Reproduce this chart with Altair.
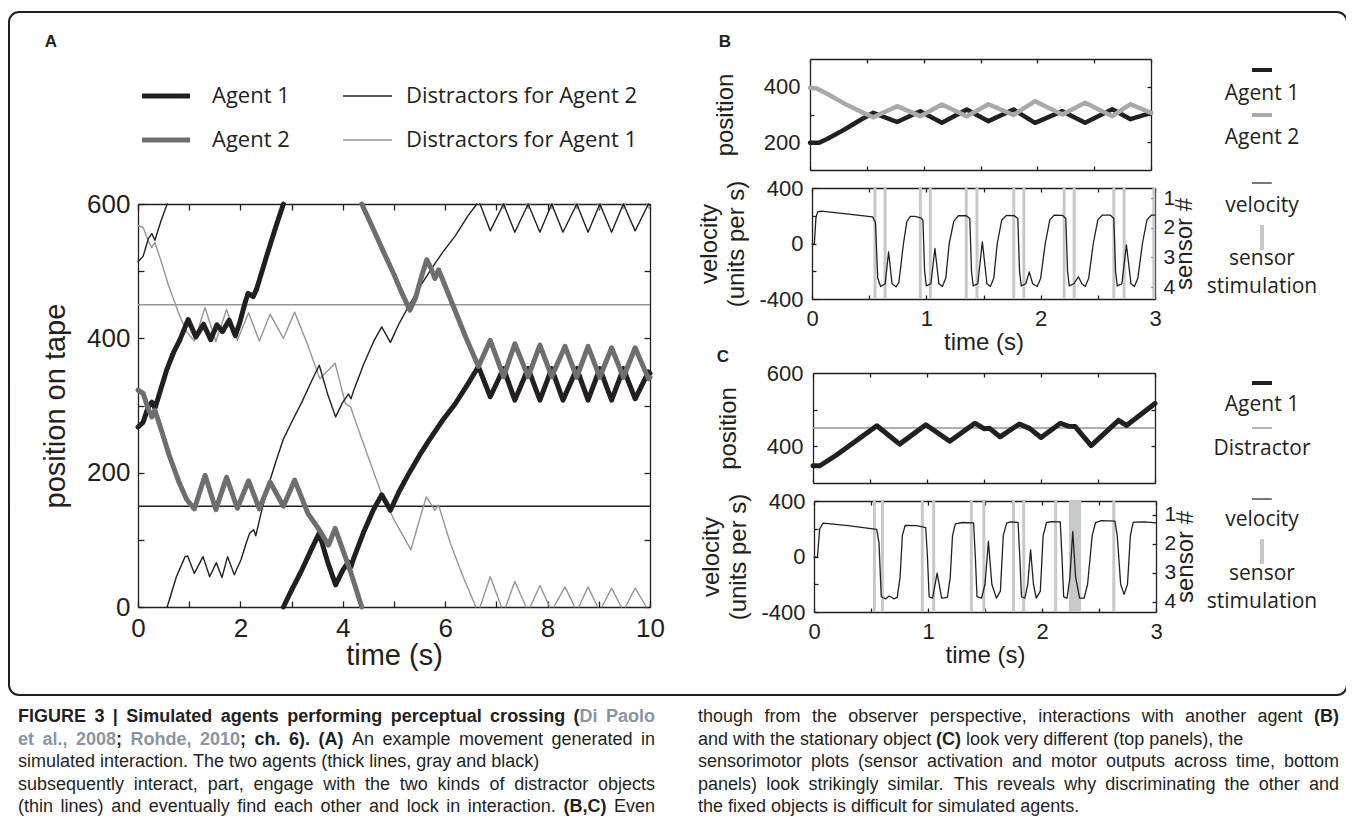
import altair as alt
import pandas as pd

# ======================= DATA =======================
# ---- Panel A : position on tape (0-600) against time (0-10 s) ----
agent1_a = [(0.00,268),(0.10,275),(0.20,298),(0.27,305),(0.33,296),(0.42,318),(0.56,353),(0.70,380),
            (0.82,398),(0.98,428),(1.13,402),(1.28,421),(1.42,398),(1.54,420),(1.65,410),(1.78,427),
            (1.90,404),(1.99,424),(2.08,450),(2.15,467),(2.25,462),(2.32,474),(2.51,522),(2.70,568),(2.84,600)]
agent1_b = [(2.84,0),(3.00,25),(3.20,55),(3.40,88),(3.54,110),(3.70,68),(3.86,33),(4.00,55),(4.11,67),
            (4.16,60),(4.22,74),(4.40,110),(4.60,145),(4.76,167),(4.93,144),(5.10,172),(5.30,200),
            (5.50,226),(5.70,250),(5.95,278),(6.20,303),(6.45,333),(6.65,358),(6.88,313),(7.14,355),
            (7.36,308),(7.62,355),(7.85,308),(8.08,355),(8.30,308),(8.57,355),(8.79,308),(9.02,355),
            (9.25,308),(9.48,355),(9.71,310),(9.97,350),(10.0,348)]
agent2_a = [(0.00,323),(0.10,318),(0.20,295),(0.27,283),(0.33,293),(0.45,265),(0.60,228),(0.80,186),
            (0.95,160),(1.10,146),(1.31,196),(1.52,145),(1.73,193),(1.94,147),(2.16,188),(2.37,146),
            (2.58,186),(2.84,150),(3.06,189),(3.32,139),(3.54,115),(3.72,92),(3.85,117),(4.15,53),(4.37,0)]
agent2_b = [(4.37,600),(4.60,562),(4.80,528),(5.00,495),(5.15,468),(5.31,442),(5.42,460),(5.53,490),
            (5.64,517),(5.72,505),(5.80,489),(5.87,502),(6.00,478),(6.20,440),(6.40,402),(6.65,358),
            (6.88,397),(7.14,343),(7.36,392),(7.62,343),(7.85,390),(8.08,343),(8.34,388),(8.57,342),
            (8.79,388),(9.02,342),(9.25,386),(9.48,342),(9.71,386),(9.97,340),(10.0,342)]
distr2_a = [(0.00,514),(0.10,522),(0.20,548),(0.27,556),(0.33,546),(0.45,575),(0.57,600)]
distr2_b = [(0.57,0),(0.75,45),(0.92,75),(0.97,76),(1.10,50),(1.27,75),(1.40,45),(1.53,66),(1.64,44),
            (1.75,75),(1.88,48),(2.01,70),(2.10,92),(2.18,110),(2.26,115),(2.30,106),(2.42,145),
            (2.58,189),(2.70,218),(2.84,250),(3.00,275),(3.20,305),(3.40,338),(3.54,360),(3.70,318),
            (3.86,283),(4.00,305),(4.11,317),(4.16,310),(4.22,324),(4.40,360),(4.60,395),(4.76,417),
            (4.93,394),(5.10,422),(5.30,450),(5.50,476),(5.70,500),(5.95,528),(6.20,553),(6.45,583),(6.62,600)]
distr2_c = [(6.68,600),(6.88,560),(7.14,600),(7.36,558),(7.62,600),(7.85,558),(8.08,600),(8.30,558),
            (8.57,600),(8.79,558),(9.02,600),(9.25,558),(9.48,600),(9.71,560),(9.97,600),(10.0,598)]
distr1_a = [(0.00,568),(0.10,565),(0.20,545),(0.27,535),(0.33,543),(0.45,515),(0.60,478),(0.80,436),
            (0.95,410),(1.10,396),(1.31,446),(1.52,395),(1.73,443),(1.94,397),(2.16,438),(2.37,396),
            (2.58,436),(2.84,400),(3.06,439),(3.32,389),(3.55,340),(3.85,363),(4.05,303),(4.15,298),
            (4.37,250),(4.73,174),(5.00,130),(5.33,85),(5.48,125),(5.63,164),(5.80,144),(5.87,152),
            (6.10,95),(6.35,45),(6.60,0)]
distr1_tail = [[(6.68,0),(6.88,45),(7.10,0)], [(7.10,600),(7.14,593),(7.18,600)],
               [(7.18,0),(7.36,38),(7.58,0)], [(7.58,600),(7.62,593),(7.66,600)],
               [(7.66,0),(7.85,32),(8.04,0)], [(8.04,600),(8.08,593),(8.12,600)],
               [(8.12,0),(8.34,30),(8.53,0)], [(8.53,600),(8.57,593),(8.61,600)],
               [(8.61,0),(8.79,30),(8.98,0)], [(8.98,600),(9.02,593),(9.06,600)],
               [(9.06,0),(9.25,28),(9.44,0)], [(9.44,600),(9.48,593),(9.52,600)],
               [(9.52,0),(9.71,28),(9.93,0)], [(9.93,600),(9.97,594),(10.0,596)]]
static_black = 150
static_gray = 450

# ---- Panel B : interaction with the other agent ----
b_agent1 = [(0.00,198),(0.08,198),(0.15,212),(0.30,245),(0.45,282),(0.557,306),(0.766,273),(0.97,312),
            (1.16,270),(1.38,318),(1.57,276),(1.79,318),(1.98,270),(2.22,312),(2.42,270),(2.66,319),
            (2.82,283),(3.00,306)]
b_agent2 = [(0.00,396),(0.06,394),(0.15,375),(0.30,340),(0.45,310),(0.557,290),(0.766,330),(0.97,294),
            (1.16,336),(1.38,294),(1.57,337),(1.79,298),(1.98,348),(2.22,300),(2.42,342),(2.66,294),
            (2.82,337),(3.00,306)]
b_velocity = [(0.00,-5),(0.02,-5),(0.035,190),(0.05,228),(0.08,234),(0.30,214),(0.53,192),(0.555,150),
              (0.575,-250),(0.60,-310),(0.64,-290),(0.67,-60),(0.70,-290),(0.735,-312),(0.76,-280),
              (0.80,0),(0.83,160),(0.86,195),(0.90,195),(0.95,185),(0.97,170),(0.985,-200),(1.00,-305),
              (1.04,-290),(1.075,-36),(1.11,-290),(1.14,-310),(1.17,-250),(1.20,0),(1.24,160),(1.28,200),
              (1.35,200),(1.38,180),(1.395,-200),(1.41,-305),(1.45,-290),(1.49,12),(1.53,-290),(1.56,-310),
              (1.59,-250),(1.62,0),(1.66,170),(1.70,202),(1.77,200),(1.80,180),(1.815,-200),(1.83,-305),
              (1.87,-290),(1.90,-204),(1.93,-290),(1.97,-310),(2.00,-250),(2.04,0),(2.08,170),(2.12,205),
              (2.19,203),(2.22,180),(2.235,-200),(2.25,-305),(2.29,-290),(2.33,-240),(2.36,-290),
              (2.39,-310),(2.42,-250),(2.46,0),(2.50,170),(2.54,205),(2.61,204),(2.64,180),(2.655,-200),
              (2.67,-305),(2.71,-290),(2.75,-10),(2.79,-290),(2.82,-310),(2.85,-250),(2.89,0),(2.93,170),
              (2.97,205),(3.00,205)]
b_sensor = [0.551, 0.639, 0.947, 1.035, 1.349, 1.443, 1.765, 1.853, 2.205, 2.293, 2.64, 2.73, 2.99]

# ---- Panel C : interaction with the fixed distractor ----
c_agent1 = [(0.00,347),(0.06,347),(0.20,375),(0.40,420),(0.56,456),(0.76,406),(0.99,459),(1.20,414),
            (1.42,463),(1.50,448),(1.55,449),(1.64,426),(1.81,461),(1.90,449),(2.00,424),(2.17,463),
            (2.24,455),(2.30,454),(2.44,402),(2.68,471),(2.75,457),(3.00,517)]
c_distractor = 450
c_velocity = [(0.00,-5),(0.03,-5),(0.05,200),(0.08,240),(0.30,222),(0.55,195),(0.57,100),(0.59,-290),
              (0.63,-305),(0.66,-285),(0.70,-305),(0.73,-295),(0.755,-150),(0.775,150),(0.80,225),
              (0.90,222),(0.98,208),(0.995,0),(1.01,-290),(1.04,-300),(1.08,-120),(1.12,-300),(1.17,-295),
              (1.195,-150),(1.215,150),(1.24,235),(1.30,245),(1.40,243),(1.415,0),(1.43,-290),(1.47,-300),
              (1.50,-200),(1.53,108),(1.56,-200),(1.60,-300),(1.635,-250),(1.66,150),(1.69,240),(1.72,250),
              (1.79,245),(1.805,0),(1.82,-290),(1.85,-300),(1.875,-200),(1.90,48),(1.925,-200),(1.95,-300),
              (1.985,-250),(2.01,150),(2.04,245),(2.08,252),(2.16,250),(2.175,0),(2.19,-290),(2.22,-300),
              (2.245,-150),(2.27,180),(2.295,-150),(2.33,-300),(2.37,-300),(2.40,-200),(2.44,150),
              (2.47,245),(2.52,258),(2.64,255),(2.66,150),(2.69,-200),(2.72,-273),(2.75,-200),(2.775,150),
              (2.80,248),(2.90,250),(3.00,242)]
c_sensor = [0.53, 0.60, 0.95, 1.05, 1.38, 1.49, 1.75, 1.84, 2.12, 2.25, 2.27, 2.29, 2.31, 2.33, 2.63]

# ---- tick marks and labels ----
a_xticks = list(range(0, 11)); a_xlabels = [0, 2, 4, 6, 8, 10]
a_yticks = [0, 100, 200, 300, 400, 500, 600]; a_ylabels = [0, 200, 400, 600]
bc_xticks = [0, 0.5, 1, 1.5, 2, 2.5, 3]; bc_xlabels = [0, 1, 2, 3]
b_pos_yticks = [200, 300, 400]; b_pos_ylabels = [200, 400]
c_pos_yticks = [400, 500]; c_pos_ylabels = [400, 600]
vel_yticks = [-400, -200, 0, 200, 400]; vel_ylabels = [-400, 0, 400]
sensor_ticks = [1, 2, 3, 4]

# ---- caption text ----
caption_left = [
    [("FIGURE 3 | Simulated agents performing perceptual crossing (", True, "ink"), ("Di Paolo", True, "cite")],
    [("et al., 2008", True, "cite"), ("; ", True, "ink"), ("Rohde, 2010", True, "cite"), ("; ch. 6). (A)", True, "ink"),
     (" An example movement generated in", False, "ink")],
    [("simulated interaction. The two agents (thick lines, gray and black)", False, "ink")],
    [("subsequently interact, part, engage with the two kinds of distractor objects", False, "ink")],
    [("(thin lines) and eventually find each other and lock in interaction. ", False, "ink"), ("(B,C)", True, "ink"),
     (" Even", False, "ink")],
]
caption_right = [
    [("though from the observer perspective, interactions with another agent ", False, "ink"), ("(B)", True, "ink")],
    [("and with the stationary object ", False, "ink"), ("(C)", True, "ink"),
     (" look very different (top panels), the", False, "ink")],
    [("sensorimotor plots (sensor activation and motor outputs across time, bottom", False, "ink")],
    [("panels) look strikingly similar. This reveals why discriminating the other and", False, "ink")],
    [("the fixed objects is difficult for simulated agents.", False, "ink")],
]
justify_left = [True, True, False, True, True]
justify_right = [True, False, True, True, False]

# ======================= LAYOUT / STYLE =======================
W, H = 1338, 814
def X(p): return p - 8
def Y(p): return p - 8

INK = "#231f20"
GRAY_A2 = "#6d6e71"
GRAY_THIN = "#939598"
GRAY_B2 = "#a7a9ac"
GRAY_BAR = "#c7c8ca"
CITE = "#8a94a3"
COLORS = {"ink": INK, "cite": CITE}
AXF = "Liberation Sans"
LEGF = "Open Sans"

def sc(dom, rng):
    return alt.Scale(domain=dom, range=rng, nice=False, zero=False)

def ax(**kw):
    d = dict(grid=False, domainColor=INK, tickColor=INK, labelColor=INK, titleColor=INK,
             domainWidth=1.3, tickWidth=1.3, labelFont=AXF, titleFont=AXF, titleFontWeight="normal",
             labelFlush=False, labelOverlap=False, minExtent=0)
    d.update(kw)
    return alt.Axis(**d)

def seg_df(segments):
    rows = []
    for k, seg in enumerate(segments):
        for i, (t, v) in enumerate(seg):
            rows.append({"t": t, "v": v, "seg": k, "i": i})
    return pd.DataFrame(rows)

def lines(segments, xs, ys, color, width):
    return alt.Chart(seg_df(segments)).mark_line(
        color=color, strokeWidth=width, strokeJoin="round", strokeCap="round").encode(
        x=alt.X("t:Q", scale=xs, axis=None), y=alt.Y("v:Q", scale=ys, axis=None),
        detail="seg:N", order="i:Q")

def hline(val, xd, xs, ys, color, width):
    df = pd.DataFrame({"t": [xd[0], xd[1]], "v": [val, val]})
    return alt.Chart(df).mark_line(color=color, strokeWidth=width).encode(
        x=alt.X("t:Q", scale=xs, axis=None), y=alt.Y("v:Q", scale=ys, axis=None))

def bars(times, lo, hi, xs, ys, color, width):
    df = pd.DataFrame({"t": times, "lo": [lo] * len(times), "hi": [hi] * len(times)})
    return alt.Chart(df).mark_rule(color=color, strokeWidth=width).encode(
        x=alt.X("t:Q", scale=xs, axis=None), y=alt.Y("lo:Q", scale=ys, axis=None), y2="hi:Q")

NEG = "datum.value < 0 ? '-' + format(-datum.value, 'd') : format(datum.value, 'd')"

def frame(xd, xr, yd, yr, xticks, yticks, ts, xlabels=None, ylabels=None, xtitle=None, ytitle=None,
          lsize=22, tsize=24, lpad=8, xtpad=2, ytpad=10, right=None):
    """xr=[left,right], yr=[bottom,top] in canvas pixels. right=(sdom, srange, sticks, title)"""
    xs = sc(xd, xr); ys = sc(yd, yr)
    d = pd.DataFrame({"t": [xd[0]], "v": [yd[0]]})
    out = []
    out.append(alt.Chart(d).mark_point(opacity=0).encode(
        x=alt.X("t:Q", scale=xs, axis=ax(orient="top", offset=-yr[0], values=xticks, labels=False,
                                         tickSize=ts, title=None)),
        y=alt.Y("v:Q", scale=ys, axis=ax(orient="right", offset=xr[0] - W, values=yticks, labels=False,
                                         tickSize=ts, title=None))))
    if right is None:
        out.append(alt.Chart(d).mark_point(opacity=0).encode(
            x=alt.X("t:Q", scale=xs, axis=ax(orient="bottom", offset=yr[1] - H, values=xticks, labels=False,
                                             tickSize=ts, title=None)),
            y=alt.Y("v:Q", scale=ys, axis=ax(orient="left", offset=-xr[1], values=yticks, labels=False,
                                             tickSize=ts, title=None))))
    else:
        sdom, srng, sticks, stitle = right
        ss = sc(sdom, srng)
        d2 = pd.DataFrame({"t": [xd[0]], "s": [sdom[0]]})
        out.append(alt.Chart(d2).mark_point(opacity=0).encode(
            x=alt.X("t:Q", scale=xs, axis=ax(orient="bottom", offset=yr[1] - H, values=xticks, labels=False,
                                             tickSize=ts, title=None)),
            y=alt.Y("s:Q", scale=ss, axis=ax(orient="left", offset=-xr[1], values=sticks, labels=False,
                                             tickSize=ts, title=None))))
        out.append(alt.Chart(d2).mark_point(opacity=0).encode(
            x=alt.X("t:Q", scale=xs, axis=None),
            y=alt.Y("s:Q", scale=ss, axis=ax(orient="right", offset=xr[1] - W, values=sticks, ticks=False,
                                             domain=False, labelFontSize=lsize - 1, labelPadding=lpad - 1,
                                             title=stitle, titleFontSize=tsize, titleAngle=270,
                                             titleX=29, titleY=(yr[0] + yr[1]) / 2,
                                             titleAlign="center", titleBaseline="middle"))))
    if xlabels:
        xenc = alt.X("t:Q", scale=xs, axis=ax(orient="bottom", offset=yr[0] - H, values=xlabels, ticks=False,
                                              domain=False, labelFontSize=lsize, labelPadding=lpad,
                                              title=xtitle, titleFontSize=tsize, titlePadding=xtpad))
    else:
        xenc = alt.X("t:Q", scale=xs, axis=None)
    out.append(alt.Chart(d).mark_point(opacity=0).encode(
        x=xenc,
        y=alt.Y("v:Q", scale=ys, axis=ax(orient="left", offset=-xr[0], values=ylabels, ticks=False,
                                         domain=False, labelFontSize=lsize, labelPadding=lpad,
                                         labelExpr=NEG, title=ytitle, titleFontSize=tsize,
                                         titlePadding=ytpad, titleLineHeight=tsize + 3))))
    return xs, ys, out

one = pd.DataFrame({"k": [0]})

def txt(s, x, y, size, font=AXF, weight="normal", color=INK, align="left", baseline="middle"):
    return alt.Chart(one).mark_text(text=s, font=font, fontSize=size, fontWeight=weight, color=color,
                                    align=align, baseline=baseline).encode(x=alt.value(X(x)), y=alt.value(Y(y)))

def hseg(x1, x2, y, color, width):
    return alt.Chart(one).mark_rule(color=color, strokeWidth=width).encode(
        x=alt.value(X(x1)), x2=alt.value(X(x2)), y=alt.value(Y(y)))

def vseg(x, y1, y2, color, width):
    return alt.Chart(one).mark_rule(color=color, strokeWidth=width).encode(
        x=alt.value(X(x)), y=alt.value(Y(y1)), y2=alt.value(Y(y2)))

layers = []

# outer rounded frame
layers.append(alt.Chart(one).mark_rect(fillOpacity=0, stroke=INK, strokeWidth=2, cornerRadius=10).encode(
    x=alt.value(1), x2=alt.value(X(1347)), y=alt.value(Y(12)), y2=alt.value(Y(695))))

# ---------------- Panel A ----------------
A_xd, A_yd = [0, 10], [0, 600]
A_xs, A_ys, fr = frame(A_xd, [X(138), X(650)], A_yd, [Y(607), Y(204)], a_xticks, a_yticks, 6,
                       xlabels=a_xlabels, ylabels=a_ylabels, xtitle="time (s)", ytitle="position on tape",
                       lsize=26, tsize=29, lpad=8, xtpad=0, ytpad=16)
layers += fr
layers.append(hline(static_gray, A_xd, A_xs, A_ys, GRAY_THIN, 1.4))
layers.append(hline(static_black, A_xd, A_xs, A_ys, INK, 1.4))
layers.append(lines([distr1_a] + distr1_tail, A_xs, A_ys, GRAY_THIN, 1.4))
layers.append(lines([distr2_a, distr2_b, distr2_c], A_xs, A_ys, INK, 1.4))
layers.append(lines([agent1_a, agent1_b], A_xs, A_ys, INK, 5))
layers.append(lines([agent2_a, agent2_b], A_xs, A_ys, GRAY_A2, 5))

layers += [hseg(142, 190, 96, INK, 5), txt("Agent 1", 212, 96, 22, font=LEGF),
           hseg(343, 392, 96, INK, 1.4), txt("Distractors for Agent 2", 406, 96, 22, font=LEGF),
           hseg(142, 190, 140, GRAY_A2, 5), txt("Agent 2", 212, 140, 22, font=LEGF),
           hseg(343, 392, 140, GRAY_THIN, 1.4), txt("Distractors for Agent 1", 406, 140, 22, font=LEGF)]

# ---------------- Panel B ----------------
BX = [0, 3]
Bp_xs, Bp_ys, fr = frame(BX, [X(810), X(1151)], [100, 500], [Y(170), Y(59)], bc_xticks, b_pos_yticks, 4,
                         ylabels=b_pos_ylabels, ytitle="position", lsize=22, tsize=24, lpad=10, ytpad=26)
layers += fr
layers.append(lines([b_agent1], Bp_xs, Bp_ys, INK, 4.5))
layers.append(lines([b_agent2], Bp_xs, Bp_ys, GRAY_B2, 4.5))

Bv_xs, Bv_ys, fr = frame(BX, [X(812), X(1155)], [-400, 400], [Y(299), Y(188)], bc_xticks, vel_yticks, 4,
                         xlabels=bc_xlabels, ylabels=vel_ylabels, xtitle="time (s)",
                         ytitle=["velocity", "(units per s)"], lsize=22, tsize=24, lpad=9, xtpad=1, ytpad=10,
                         right=([0.66, 4.40], [Y(188), Y(299)], sensor_ticks, "sensor #"))
layers += fr
layers.append(bars(b_sensor, -400, 400, Bv_xs, Bv_ys, GRAY_BAR, 3))
layers.append(lines([b_velocity], Bv_xs, Bv_ys, INK, 1.3))

# ---------------- Panel C ----------------
Cp_xs, Cp_ys, fr = frame(BX, [X(813), X(1155)], [300, 600], [Y(483), Y(373)], bc_xticks, c_pos_yticks, 4,
                         ylabels=c_pos_ylabels, ytitle="position", lsize=22, tsize=24, lpad=10, ytpad=26)
layers += fr
layers.append(hline(c_distractor, BX, Cp_xs, Cp_ys, GRAY_THIN, 1.4))
layers.append(lines([c_agent1], Cp_xs, Cp_ys, INK, 5))

Cv_xs, Cv_ys, fr = frame(BX, [X(814), X(1156)], [-400, 400], [Y(612), Y(501)], bc_xticks, vel_yticks, 4,
                         xlabels=bc_xlabels, ylabels=vel_ylabels, xtitle="time (s)",
                         ytitle=["velocity", "(units per s)"], lsize=22, tsize=24, lpad=9, xtpad=1, ytpad=10,
                         right=([0.52, 4.35], [Y(501), Y(612)], sensor_ticks, "sensor #"))
layers += fr
layers.append(bars(c_sensor, -400, 400, Cv_xs, Cv_ys, GRAY_BAR, 3))
layers.append(lines([c_velocity], Cv_xs, Cv_ys, INK, 1.3))

# legends B / C
LX = 1262
LS = 21
layers += [hseg(LX - 10, LX + 10, 70, INK, 4), txt("Agent 1", LX, 94, LS, font=LEGF, align="center"),
           hseg(LX - 10, LX + 10, 115, GRAY_B2, 4), txt("Agent 2", LX, 138, LS, font=LEGF, align="center"),
           hseg(LX - 10, LX + 10, 183, INK, 1.2), txt("velocity", LX, 206, LS, font=LEGF, align="center"),
           vseg(LX, 225, 250, GRAY_BAR, 4), txt("sensor", LX, 259, LS, font=LEGF, align="center"),
           txt("stimulation", LX, 287, LS, font=LEGF, align="center"),
           hseg(LX - 10, LX + 10, 383, INK, 4), txt("Agent 1", LX, 405, LS, font=LEGF, align="center"),
           hseg(LX - 10, LX + 10, 428, GRAY_THIN, 1.4), txt("Distractor", LX, 449, LS, font=LEGF, align="center"),
           hseg(LX - 10, LX + 10, 499, INK, 1.2), txt("velocity", LX, 520, LS, font=LEGF, align="center"),
           vseg(LX, 539, 564, GRAY_BAR, 4), txt("sensor", LX, 574, LS, font=LEGF, align="center"),
           txt("stimulation", LX, 602, LS, font=LEGF, align="center")]

# panel letters
layers += [txt("A", 51, 42, 17, weight="bold", align="center"),
           txt("B", 725, 42, 17, weight="bold", align="center"),
           txt("C", 723, 357, 17, weight="bold", align="center")]

# ---------------- caption (Arial-metric layout, justified where the reference is) ----------------
_R = dict(zip("abcdefghijklmnopqrstuvwxyz", [556,556,500,556,556,278,556,556,222,222,500,222,833,556,556,556,556,333,500,278,556,500,722,500,500,500]))
_R.update(dict(zip("ABCDEFGHIJKLMNOPQRSTUVWXYZ", [667,667,722,722,667,611,778,722,278,500,667,556,833,722,778,667,778,722,667,611,722,667,944,667,667,611])))
_R.update({" ": 278, "(": 333, ")": 333, ",": 278, ".": 278, ";": 278, "|": 260, "-": 333})
_B = dict(zip("abcdefghijklmnopqrstuvwxyz", [556,611,556,611,556,333,611,611,278,278,556,278,889,611,611,611,611,389,556,333,611,556,778,556,556,500]))
_B.update(dict(zip("ABCDEFGHIJKLMNOPQRSTUVWXYZ", [722,722,722,722,667,611,778,722,278,556,722,611,833,722,778,667,778,722,667,611,722,667,944,667,667,611])))
_B.update({" ": 278, "(": 333, ")": 333, ",": 278, ".": 278, ";": 333, "|": 280, "-": 333})

CAP = 18
def tw(s, bold):
    t = _B if bold else _R
    return sum(t.get(ch, 556) for ch in s) * CAP / 1000.0

def cap_line(x0, x1, y, segs, justify):
    words = [[]]
    for s, bold, ckey in segs:
        parts = s.split(" ")
        for j, p in enumerate(parts):
            if j > 0:
                words.append([])
            if p:
                words[-1].append((p, bold, ckey))
    words = [w for w in words if w]
    widths = [sum(tw(p, b) for p, b, _ in w) for w in words]
    space = tw(" ", False)
    if justify and len(words) > 1:
        gap = (x1 - x0 - sum(widths)) / (len(words) - 1)
    else:
        gap = space
    out = []
    x = x0
    for w, wd in zip(words, widths):
        xx = x
        for p, b, ckey in w:
            out.append(txt(p, xx, y, CAP, weight="bold" if b else "normal", color=COLORS[ckey]))
            xx += tw(p, b)
        x += wd + gap
    return out

for k, segs in enumerate(caption_left):
    layers += cap_line(18, 655, 717 + 22.5 * k, segs, justify_left[k])
for k, segs in enumerate(caption_right):
    layers += cap_line(698, 1339, 717 + 22.5 * k, segs, justify_right[k])

chart = alt.layer(*layers).resolve_scale(x="independent", y="independent").properties(
    width=W, height=H, padding=0, autosize=alt.AutoSizeParams(type="none")
).configure_view(stroke=None)

chart.save("out.html", embed_options={"renderer": "svg", "actions": False})
